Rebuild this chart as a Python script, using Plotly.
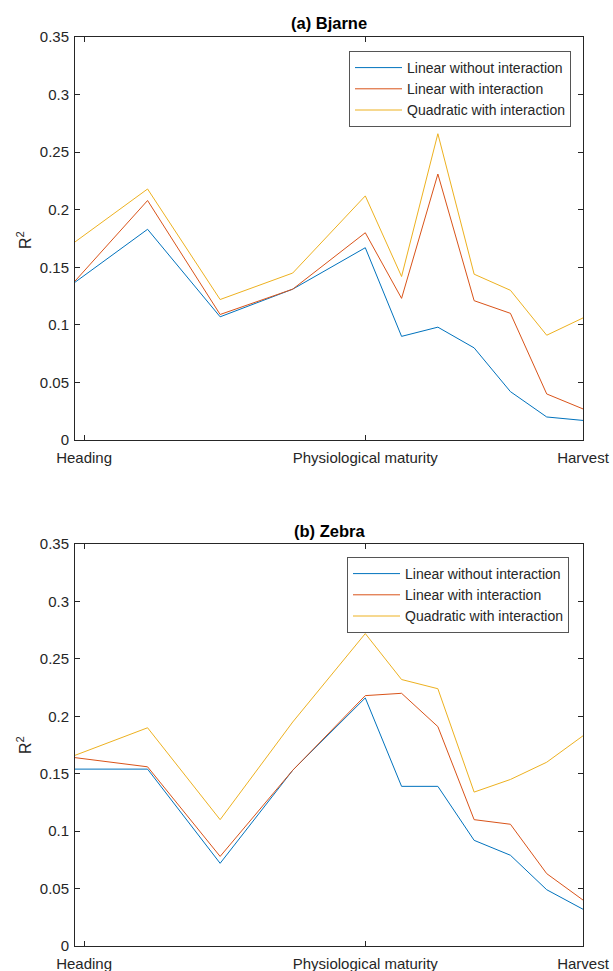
import plotly.graph_objects as go

# ---- data ----
x_pos = [0, 2, 4, 6, 8, 9, 10, 11, 12, 13, 14]
tick_vals = [0.25, 8, 14]
tick_text = ["Heading", "Physiological maturity", "Harvest"]
y_ticks = [0, 0.05, 0.1, 0.15, 0.2, 0.25, 0.3, 0.35]
y_tick_text = ["0", "0.05", "0.1", "0.15", "0.2", "0.25", "0.3", "0.35"]

series_names = ["Linear without interaction", "Linear with interaction", "Quadratic with interaction"]

bjarne_lin_noint = [0.137, 0.183, 0.107, 0.131, 0.167, 0.090, 0.098, 0.080, 0.042, 0.020, 0.017]
bjarne_lin_int   = [0.138, 0.208, 0.109, 0.131, 0.180, 0.123, 0.231, 0.121, 0.110, 0.040, 0.027]
bjarne_quad_int  = [0.172, 0.218, 0.122, 0.145, 0.212, 0.142, 0.266, 0.144, 0.130, 0.091, 0.106]

zebra_lin_noint = [0.154, 0.154, 0.072, 0.153, 0.216, 0.139, 0.139, 0.092, 0.079, 0.049, 0.032]
zebra_lin_int   = [0.164, 0.156, 0.078, 0.153, 0.218, 0.220, 0.191, 0.110, 0.106, 0.063, 0.040]
zebra_quad_int  = [0.166, 0.190, 0.110, 0.195, 0.272, 0.232, 0.224, 0.134, 0.145, 0.160, 0.183]

colors = ["#0072BD", "#D95319", "#EDB120"]
W, H = 613, 971
TXT = "#262626"
FONT = "Liberation Sans, Arial, sans-serif"

fig = go.Figure()

panels = [
    ("x", "y", "legend", [bjarne_lin_noint, bjarne_lin_int, bjarne_quad_int]),
    ("x2", "y2", "legend2", [zebra_lin_noint, zebra_lin_int, zebra_quad_int]),
]
for xa, ya, lg, ser in panels:
    for name, vals, c in zip(series_names, ser, colors):
        fig.add_trace(go.Scatter(x=x_pos, y=vals, mode="lines", name=name,
                                 line=dict(color=c, width=1), xaxis=xa, yaxis=ya,
                                 legend=lg, showlegend=True))

def px_x(p):
    return p / W

def px_y(p):
    return 1 - p / H

xdom = [px_x(75), px_x(583)]
axis_common = dict(showline=True, linecolor=TXT, linewidth=1, mirror="ticks",
                   ticks="inside", ticklen=5, tickcolor=TXT, showgrid=False,
                   zeroline=False, tickfont=dict(family=FONT, size=15, color=TXT),
                   automargin=False)

xaxis_cfg = dict(axis_common, range=[0, 14], tickvals=tick_vals, ticktext=tick_text,
                 domain=xdom, ticklabelstandoff=4)
yaxis_cfg = dict(axis_common, range=[0, 0.35], tickvals=y_ticks, ticktext=y_tick_text,
                 ticklabelstandoff=2)

legend_common = dict(xanchor="right", yanchor="top", bgcolor="white",
                     bordercolor="#555555", borderwidth=1, itemwidth=47,
                     font=dict(family=FONT, size=14, color=TXT), tracegroupgap=0)

fig.update_layout(
    width=W, height=H,
    margin=dict(l=0, r=0, t=0, b=0),
    paper_bgcolor="white", plot_bgcolor="white",
    font=dict(family=FONT, color=TXT),
    xaxis=dict(xaxis_cfg, anchor="y"),
    yaxis=dict(yaxis_cfg, domain=[px_y(440), px_y(37)], anchor="x"),
    xaxis2=dict(xaxis_cfg, anchor="y2"),
    yaxis2=dict(yaxis_cfg, domain=[px_y(946), px_y(544)], anchor="x2"),
    legend=dict(legend_common, x=px_x(571), y=px_y(51)),
    legend2=dict(legend_common, x=px_x(569), y=px_y(557)),
    showlegend=True,
)

annotations = [
    dict(text="<b>(a) Bjarne</b>", x=px_x(329), y=px_y(23)),
    dict(text="<b>(b) Zebra</b>", x=px_x(329), y=px_y(531)),
]
for a in annotations:
    fig.add_annotation(xref="paper", yref="paper", x=a["x"], y=a["y"], text=a["text"],
                       showarrow=False, xanchor="center", yanchor="middle",
                       font=dict(family=FONT, size=16.5, color="black"))

for yc in [px_y(240), px_y(745)]:
    fig.add_annotation(xref="paper", yref="paper", x=px_x(24), y=yc, text="R<sup>2</sup>",
                       showarrow=False, textangle=-90, xanchor="center", yanchor="middle",
                       font=dict(family=FONT, size=16, color=TXT))

fig.write_html("out.html", config={"displayModeBar": False},
               post_script="document.body.style.margin='0px';document.body.style.overflow='hidden';")
